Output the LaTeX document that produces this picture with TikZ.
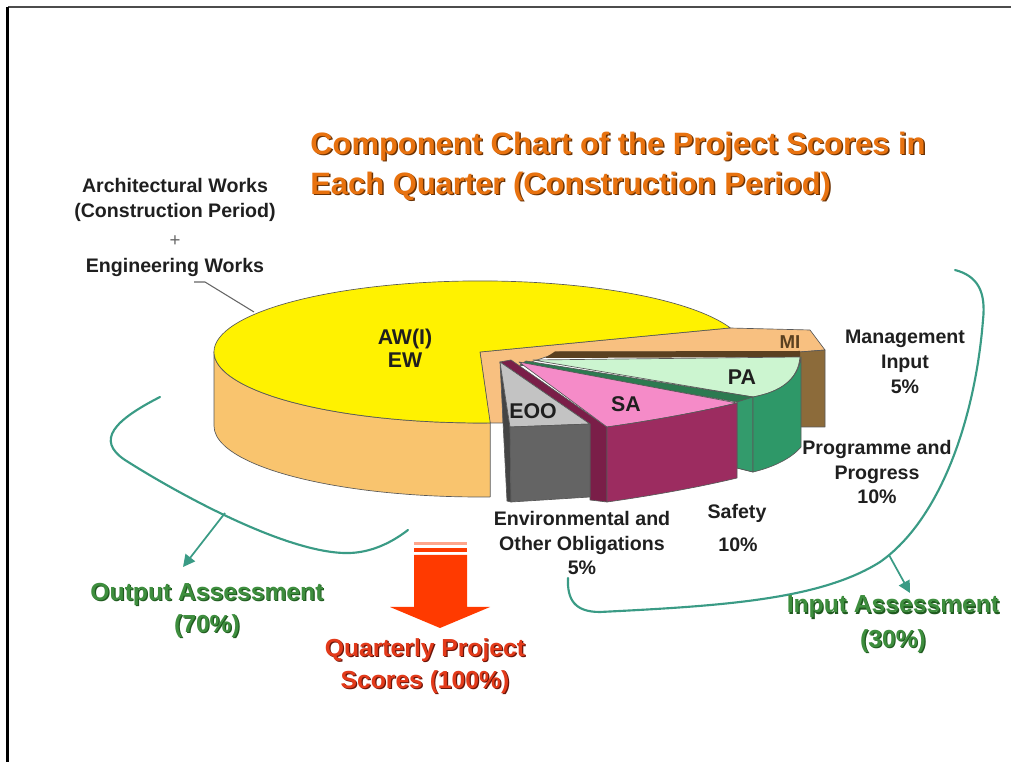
\documentclass[tikz,border=0pt]{standalone}
\usepackage{fontspec}
\setmainfont{Liberation Sans}
\usetikzlibrary{arrows.meta}
\definecolor{bigside}{HTML}{F9C46E}
\definecolor{band}{HTML}{F8C080}
\definecolor{mibrown}{HTML}{8C6B3A}
\definecolor{midark}{HTML}{5A4020}
\definecolor{patop}{HTML}{CCF5D0}
\definecolor{paface}{HTML}{2C7A50}
\definecolor{paside}{HTML}{339B6C}
\definecolor{pafront}{HTML}{2E9868}
\definecolor{satop}{HTML}{F58BC8}
\definecolor{saface}{HTML}{7A1E48}
\definecolor{safront}{HTML}{9C2C60}
\definecolor{eootop}{HTML}{C3C3C3}
\definecolor{eoofront}{HTML}{646464}
\definecolor{eooface}{HTML}{444444}
\definecolor{tealc}{HTML}{3A9B85}
\definecolor{greent}{HTML}{3E8E3E}
\definecolor{greensh}{HTML}{1F5A1F}
\definecolor{oranget}{HTML}{E8720F}
\definecolor{orangesh}{HTML}{6A3205}
\definecolor{redarrow}{HTML}{FF3A00}
\definecolor{redt}{HTML}{E33A1A}
\definecolor{redsh}{HTML}{6A150A}
\begin{document}
\begin{tikzpicture}[x=0.75pt,y=0.75pt,line join=round,
  lbl/.style={font=\fontsize{14.7}{18.5}\selectfont\bfseries,align=center,text=black!88,inner sep=0},
  pielbl/.style={font=\fontsize{16}{17.5}\selectfont\bfseries,align=center,text=black!88,inner sep=0},
  pie/.style={draw=black!65,line width=0.5pt},
  bracket/.style={draw=tealc,line width=1.6pt,line cap=round},
  tealarrow/.style={draw=tealc,line width=1.3pt,-{Triangle[length=9pt,width=9pt]}},
  bigtxt/.style={font=\fontsize{18.5}{24}\selectfont\bfseries,align=center,inner sep=0},
  titletxt/.style={font=\fontsize{23.2}{30}\selectfont\bfseries,align=left,inner sep=0,anchor=west}
]
\useasboundingbox (0,0) rectangle (1011,-762);
% frame
\draw[line width=1.6pt,draw=black!70] (1011,-7) -- (7.5,-7);
\draw[line width=1.6pt,draw=black] (7.5,-7) -- (7.5,-762);

% title
\node[titletxt,text=orangesh] (titlesh) at (311.5,-168) {Component Chart of the Project Scores in\\Each Quarter (Construction Period)};
\node[titletxt,text=oranget] (title) at (310,-166.5) {Component Chart of the Project Scores in\\Each Quarter (Construction Period)};

% ---- pie ----
% band behind (MI top and cut faces)
\fill[band,pie] (480,-352) -- (730,-328) -- (810,-330) -- (825,-350) -- (800,-352) -- (560,-352) -- (520,-366) -- (503,-366) -- (503,-423) -- (490,-423) -- cycle;
% MI side
\fill[mibrown,pie] (799,-352) -- (825,-350) -- (825,-427) -- (799,-427) -- cycle;
\fill[midark] (555,-351.5) -- (800,-351) -- (800,-357) -- (545,-358) -- cycle;
% big slice side
\fill[bigside,pie] (214,-352) arc[start angle=180,end angle=272.2,x radius=266,y radius=71]
   -- ++(0,-74) arc[start angle=272.2,end angle=180,x radius=266,y radius=71] -- cycle;
% big slice top
\fill[yellow,pie] (480,-352) -- (730.3,-327.9) arc[start angle=19.8,end angle=272.2,x radius=266,y radius=71] -- cycle;
% PA
\fill[patop,pie] (533,-360) -- (800,-357) .. controls (798,-380) and (780,-392) .. (753,-397) -- cycle;
\fill[paface,pie] (526,-361) -- (753,-397) -- (753,-472) -- (737,-468) -- (737,-402) -- (520,-365) -- cycle;
\fill[paside,pie] (737,-402) -- (753,-397) -- (753,-472) -- (737,-468) -- cycle;
\fill[pafront,pie] (753,-397) .. controls (780,-392) and (798,-380) .. (801,-357) -- (801,-447) .. controls (790,-460) and (770,-468) .. (753,-472) -- cycle;
% SA
\fill[saface,pie] (511,-360) -- (607,-427) -- (607,-502) -- (590,-500) -- (590,-424) -- (500,-362) -- cycle;
\fill[satop,pie] (519,-362) -- (737,-403) .. controls (700,-412) and (650,-421) .. (607,-427) -- cycle;
\fill[safront,pie] (607,-427) .. controls (650,-421) and (700,-412) .. (737,-403) -- (737,-478) .. controls (700,-487) and (650,-496) .. (607,-502) -- cycle;
% EOO
\fill[eooface,pie] (500,-362) -- (510,-427) -- (511,-502) -- (507,-501) -- cycle;
\fill[eootop,pie] (500,-362) -- (590,-424) -- (510,-427) -- cycle;
\fill[eoofront,pie] (510,-427) -- (590,-424) -- (590,-497) -- (511,-502) -- cycle;

% pie labels
\node[pielbl] (aw) at (405,-348) {AW(I)\\EW};
\node[pielbl] (eoo) at (533,-411) {EOO};
\node[pielbl] (sa) at (626,-404) {SA};
\node[pielbl] (pa) at (742,-377) {PA};
\node[pielbl,font=\fontsize{14}{16}\selectfont\bfseries,text=midark] (mi) at (790,-342) {MI};

% outside labels
\node[lbl] (arch) at (175,-200) {Architectural Works\\(Construction Period)};
\node[lbl,font=\fontsize{14}{16}\selectfont,text=black!60] (plus) at (175,-241) {+};
\node[lbl] (eng) at (175,-267) {Engineering Works};
\coordinate (engp) at (194,-282);
\coordinate (awtip) at (254,-312);
\draw[draw=black!60,line width=0.8pt] (engp) -- ++(11,0) -- (awtip);

\node[lbl] (mgmt) at (905,-362) {Management\\Input\\5\%};
\node[lbl] (prog) at (877,-472) {Programme and\\Progress\\10\%};
\node[lbl] (safety) at (737,-513) {Safety};
\node[lbl] (safetyp) at (738,-545) {10\%};
\node[lbl] (env) at (582,-543) {Environmental and\\Other Obligations\\5\%};

% output bracket
\draw[bracket] (160,-397) .. controls (115,-420) and (95,-440) .. (125,-460)
   .. controls (180,-495) and (290,-555) .. (350,-553)
   .. controls (375,-552) and (395,-540) .. (408,-530);
\coordinate (outsrc) at (225,-513);
\coordinate (outtip) at (183,-567);
\draw[tealarrow] (outsrc) -- (outtip);

% input bracket
\draw[bracket] (955,-270) .. controls (978,-276) and (986,-292) .. (983,-320)
   .. controls (975,-420) and (940,-520) .. (880,-562)
   .. controls (820,-600) and (720,-606) .. (600,-612)
   .. controls (575,-612) and (567,-600) .. (568,-578);
\coordinate (insrc) at (889,-555);
\coordinate (intip) at (910,-593);
\draw[tealarrow] (insrc) -- (intip);

% assessment labels
\node[bigtxt,text=greensh] (outlblsh) at (208.2,-611.2) {Output Assessment\\(70\%)};
\node[bigtxt,text=greent] (outlbl) at (207,-610) {Output Assessment\\(70\%)};
\node[bigtxt,text=greensh] (inlblsh) at (894.2,-608.2) {Input Assessment};
\node[bigtxt,text=greent] (inlbl) at (893,-607) {Input Assessment};
\node[bigtxt,text=greensh] (inpctsh) at (894.2,-642.2) {(30\%)};
\node[bigtxt,text=greent] (inpct) at (893,-641) {(30\%)};

% red arrow
\fill[redarrow!45] (414,-542.5) rectangle (467,-545);
\fill[redarrow] (414,-548.5) rectangle (467,-552);
\fill[redarrow] (414,-555) -- (467,-555) -- (467,-607) -- (490,-607) -- (440,-628) -- (390,-607) -- (414,-607) -- cycle;
\node[bigtxt,text=redsh] (qsh) at (426.2,-667.2) {Quarterly Project\\Scores (100\%)};
\node[bigtxt,text=redt] (q) at (425,-666) {Quarterly Project\\Scores (100\%)};
\end{tikzpicture}
\end{document}
